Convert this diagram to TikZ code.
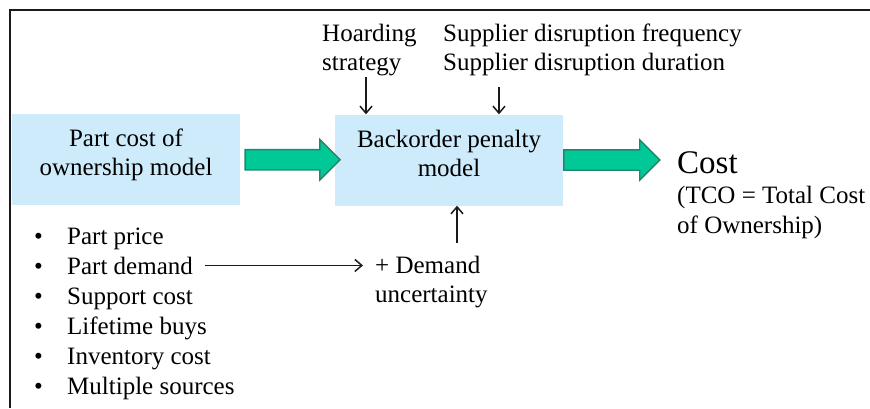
\documentclass[tikz,border=0pt]{standalone}
\usepackage{fontspec}
\setmainfont{Liberation Serif}
\usetikzlibrary{arrows.meta,positioning,calc,shapes.arrows}
\definecolor{clModel}{HTML}{CDEBFB}
\definecolor{clFlow}{HTML}{00C896}
\definecolor{clFlowEdge}{HTML}{23866A}
\definecolor{clLine}{HTML}{1A1A1A}
\tikzset{
  model/.style={rectangle, fill=clModel, align=center, inner sep=0pt,
                minimum width=228pt, minimum height=91pt, text depth=14pt,
                font=\fontsize{25}{29}\selectfont},
  bigflow/.style={single arrow, draw=clFlowEdge, fill=clFlow, line width=1.4pt,
                  inner sep=9.5pt, single arrow head extend=10pt, minimum height=95pt},
  feed/.style={-{Straight Barb[length=7pt,width=12pt]}, line width=1.5pt, draw=clLine},
  note/.style={inner sep=0pt, align=left, font=\fontsize{25}{29}\selectfont},
  item/.style={inner sep=0pt, anchor=base west, font=\fontsize{25}{30}\selectfont},
}
\newcommand{\bulletitem}[1]{\makebox[33pt][l]{\textbullet}#1}

\begin{document}
\begin{tikzpicture}[x=1pt, y=-1pt]
  \useasboundingbox (0,0) rectangle (870,408);
  % frame
  \draw[line width=2.6pt, draw=clLine] (10,408) -- (10,10) -- (870,10);

  % models and flow
  \node[model] (pcm) at (126,159.5) {Part cost of\\ownership model};
  \node[model] (bpm) at (449,160) {Backorder penalty\\model};
  \node[bigflow] (flow1) at ($(pcm.east)!0.5!(bpm.west)$) {};
  \node[bigflow, anchor=tail, minimum height=96pt] (flow2) at (bpm.east) {};
  \node[item, font=\fontsize{33}{40}\selectfont] (cost) at (677,173) {Cost};
  \node[note, anchor=base west, font=\fontsize{25}{30}\selectfont] (tco) at (677,233) {(TCO = Total Cost\\of Ownership)};

  % inputs on top
  \node[note, anchor=base west] (hoard) at (322,70) {Hoarding\\strategy};
  \node[note, anchor=base west] (supp) at (443,70) {Supplier disruption frequency\\Supplier disruption duration};
  \coordinate (hoardFoot) at (366,77);
  \coordinate (suppFoot) at (499,87);
  \draw[feed] (hoardFoot) -- (hoardFoot |- bpm.north);
  \draw[feed] (suppFoot) -- (suppFoot |- bpm.north);

  % part cost inputs
  \foreach \txt [count=\i] in {Part price, Part demand, Support cost, Lifetime buys, Inventory cost, Multiple sources}
    \node[item] (item\i) at (34, 214+30*\i) {\bulletitem{\txt}};

  % demand uncertainty
  \node[note, anchor=base west] (unc) at (375,302) {+ Demand\\uncertainty};
  \coordinate (uncTop) at (457,243);
  \draw[feed, shorten <=12pt, shorten >=12pt] (item2.east) -- (item2.east -| unc.west);
  \draw[feed] (uncTop) -- (uncTop |- bpm.south);
\end{tikzpicture}
\end{document}
